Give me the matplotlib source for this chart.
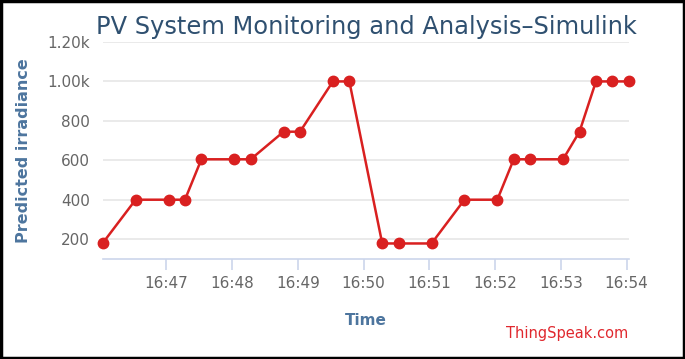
import matplotlib
matplotlib.use("Agg")
import matplotlib.pyplot as plt
import matplotlib.dates as mdates
import pandas as pd
from matplotlib.ticker import FuncFormatter

# readings (timestamp, predicted irradiance)
times = [
    "16:46:02", "16:46:32", "16:47:02", "16:47:17", "16:47:32", "16:48:02",
    "16:48:17", "16:48:47", "16:49:02", "16:49:32", "16:49:47", "16:50:17",
    "16:50:32", "16:51:02", "16:51:32", "16:52:02", "16:52:17", "16:52:32",
    "16:53:02", "16:53:17", "16:53:32", "16:53:47", "16:54:02",
]
irradiance = [
    180, 400, 400, 400, 605, 605, 605, 745, 745, 1000, 1000, 178,
    178, 178, 400, 400, 605, 605, 605, 745, 1000, 1000, 1000,
]
y_ticks = [200, 400, 600, 800, 1000, 1200]

t = pd.to_datetime(["2024-01-01 " + s for s in times])

fig = plt.figure(figsize=(6.85, 3.59), dpi=100)
ax = fig.add_axes([0.150, 0.279, 0.768, 0.604])

ax.plot(t, irradiance, color="#d92020", linewidth=1.8, marker="o",
        markersize=7.5, zorder=3, clip_on=False)

ax.set_xlim(t[0], t[-1])
ax.set_ylim(100, 1200)
ax.set_yticks(y_ticks)
ax.yaxis.set_major_formatter(FuncFormatter(
    lambda v, p: f"{v/1000:.2f}k" if v >= 1000 else f"{int(v)}"))
ax.xaxis.set_major_locator(mdates.MinuteLocator())
ax.xaxis.set_major_formatter(mdates.DateFormatter("%H:%M"))

ax.grid(axis="y", color="#e6e6e6", linewidth=1.2)
ax.set_axisbelow(True)
for side in ["top", "right", "left"]:
    ax.spines[side].set_visible(False)
ax.spines["bottom"].set_color("#ccd6eb")
ax.spines["bottom"].set_linewidth(1.2)
ax.tick_params(axis="x", colors="#ccd6eb", length=8, width=1.2, pad=4,
               labelcolor="#666666", labelsize=11)
ax.tick_params(axis="y", length=0, pad=9, labelcolor="#666666", labelsize=11)

ax.set_ylabel("Predicted irradiance", color="#4d759e", fontsize=11.5,
              fontweight="bold", labelpad=12)
ax.set_xlabel("Time", color="#4d759e", fontsize=11, fontweight="bold",
              labelpad=16)
fig.text(0.535, 0.925, "PV System Monitoring and Analysis\u2013Simulink",
         color="#2f5070", fontsize=17.4, ha="center", va="center")
fig.text(0.917, 0.072, "ThingSpeak.com", color="#e0282e", fontsize=10.5,
         ha="right", va="center")

# black frame round the picture
fig.patches.append(plt.Rectangle((0.002, 0.003), 0.996, 0.994,
                                 transform=fig.transFigure, fill=False,
                                 edgecolor="black", linewidth=2.5))

fig.savefig("out.png", dpi=100)
